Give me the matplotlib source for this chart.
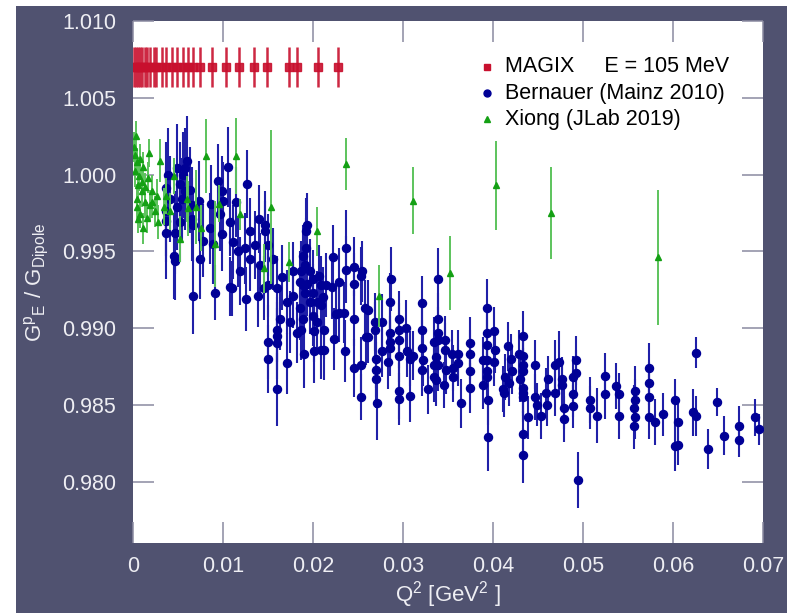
import matplotlib
matplotlib.use("Agg")
import matplotlib.pyplot as plt
from matplotlib.patches import Rectangle

plt.rcParams['font.family'] = ['Liberation Sans', 'DejaVu Sans']
plt.rcParams['mathtext.fontset'] = 'custom'
plt.rcParams['mathtext.rm'] = 'Liberation Sans'
plt.rcParams['mathtext.it'] = 'Liberation Sans'

# ---------------- data ----------------
magix_label = "MAGIX     E = 105 MeV"
magix_q2 = [0.0001, 0.0003, 0.0005, 0.0008, 0.0010, 0.0013, 0.0016, 0.0019, 0.0023,
            0.0026, 0.0032, 0.0037, 0.0043, 0.0049, 0.0055, 0.0061, 0.0067, 0.0074,
            0.0088, 0.0103, 0.0118, 0.0134, 0.0149, 0.0173, 0.0182, 0.0205, 0.0228]
magix_ratio = [1.007] * len(magix_q2)
magix_err = [0.0013] * len(magix_q2)

bern_label = "Bernauer (Mainz 2010)"
bern_q2 = [
    0.0037, 0.0039, 0.0041, 0.0037, 0.0037, 0.0037, 0.0047, 0.0045, 0.0047, 0.0049,
    0.0056, 0.0052, 0.0060, 0.0058, 0.0063, 0.0054, 0.0058, 0.0049, 0.0052, 0.0065,
    0.0065, 0.0073, 0.0067, 0.0067, 0.0074, 0.0078, 0.0087, 0.0094, 0.0106, 0.0099,
    0.0100, 0.0097, 0.0089, 0.0091, 0.0086, 0.0099, 0.0108, 0.0114, 0.0127, 0.0111,
    0.0110, 0.0117, 0.0119, 0.0126, 0.0130, 0.0124, 0.0130, 0.0140, 0.0139, 0.0136,
    0.0141, 0.0147, 0.0147, 0.0145, 0.0150, 0.0150, 0.0150, 0.0150, 0.0160, 0.0160,
    0.0160, 0.0160, 0.0163, 0.0160, 0.0156, 0.0171, 0.0171, 0.0174, 0.0178, 0.0178,
    0.0182, 0.0186, 0.0189, 0.0191, 0.0192, 0.0192, 0.0190, 0.0186, 0.0165, 0.0108,
    0.0193, 0.0222, 0.0237, 0.0237, 0.0234, 0.0226, 0.0189, 0.0197, 0.0187, 0.0200,
    0.0193, 0.0207, 0.0209, 0.0214, 0.0211, 0.0191, 0.0200, 0.0197, 0.0204, 0.0209,
    0.0200, 0.0189, 0.0204, 0.0201, 0.0212, 0.0187, 0.0201, 0.0209, 0.0212, 0.0221,
    0.0223, 0.0229, 0.0229, 0.0235, 0.0245, 0.0245, 0.0246, 0.0246, 0.0253, 0.0253,
    0.0254, 0.0253, 0.0258, 0.0261, 0.0259, 0.0261, 0.0269, 0.0269, 0.0270, 0.0270,
    0.0270, 0.0271, 0.0277, 0.0277, 0.0283, 0.0286, 0.0286, 0.0286, 0.0286, 0.0287,
    0.0295, 0.0295, 0.0295, 0.0295, 0.0295, 0.0295, 0.0303, 0.0304, 0.0308, 0.0308,
    0.0311, 0.0321, 0.0321, 0.0321, 0.0321, 0.0328, 0.0322, 0.0339, 0.0339, 0.0334,
    0.0339, 0.0339, 0.0337, 0.0334, 0.0339, 0.0334, 0.0337, 0.0347, 0.0347, 0.0348,
    0.0346, 0.0355, 0.0356, 0.0356, 0.0361, 0.0361, 0.0364, 0.0374, 0.0374, 0.0374,
    0.0374, 0.0389, 0.0389, 0.0393, 0.0393, 0.0393, 0.0393, 0.0393, 0.0393, 0.0394,
    0.0394, 0.0401, 0.0402, 0.0401, 0.0411, 0.0412, 0.0413, 0.0417, 0.0418, 0.0420,
    0.0421, 0.0429, 0.0430, 0.0433, 0.0433, 0.0433, 0.0433, 0.0433, 0.0433, 0.0433,
    0.0433, 0.0433, 0.0439, 0.0447, 0.0447, 0.0449, 0.0453, 0.0459, 0.0460, 0.0461,
    0.0469, 0.0469, 0.0473, 0.0477, 0.0477, 0.0479, 0.0479, 0.0489, 0.0489, 0.0489,
    0.0492, 0.0492, 0.0494, 0.0508, 0.0508, 0.0516, 0.0524, 0.0524, 0.0537, 0.0540,
    0.0540, 0.0558, 0.0558, 0.0557, 0.0558, 0.0557, 0.0573, 0.0573, 0.0573, 0.0573,
    0.0580, 0.0589, 0.0602, 0.0602, 0.0606, 0.0606, 0.0626, 0.0622, 0.0626, 0.0639,
    0.0649, 0.0657, 0.0673, 0.0673, 0.0691, 0.0696]
bern_ratio = [
    0.9991, 1.0000, 0.9984, 0.9976, 0.9970, 0.9962, 0.9962, 0.9947, 0.9944, 1.0004,
    1.0000, 0.9994, 1.0009, 1.0004, 0.9990, 0.9984, 0.9989, 0.9979, 0.9969, 0.9971,
    0.9980, 0.9983, 0.9967, 0.9921, 0.9945, 0.9957, 0.9981, 0.9996, 1.0005, 0.9989,
    0.9983, 0.9974, 0.9955, 0.9923, 0.9965, 0.9961, 0.9969, 0.9982, 0.9994, 0.9956,
    0.9926, 0.9950, 0.9937, 0.9919, 0.9963, 0.9952, 0.9945, 0.9971, 0.9921, 0.9954,
    0.9941, 0.9967, 0.9963, 0.9926, 0.9954, 0.9891, 0.9880, 0.9928, 0.9860, 0.9895,
    0.9899, 0.9890, 0.9906, 0.9926, 0.9945, 0.9877, 0.9917, 0.9904, 0.9921, 0.9937,
    0.9897, 0.9913, 0.9928, 0.9941, 0.9963, 0.9952, 0.9883, 0.9930, 0.9933, 0.9927,
    0.9967, 0.9946, 0.9952, 0.9938, 0.9910, 0.9909, 0.9947, 0.9937, 0.9937, 0.9932,
    0.9929, 0.9934, 0.9928, 0.9928, 0.9920, 0.9923, 0.9923, 0.9917, 0.9917, 0.9915,
    0.9908, 0.9906, 0.9904, 0.9898, 0.9899, 0.9899, 0.9885, 0.9886, 0.9886, 0.9927,
    0.9893, 0.9930, 0.9910, 0.9885, 0.9940, 0.9929, 0.9906, 0.9874, 0.9876, 0.9855,
    0.9937, 0.9934, 0.9913, 0.9912, 0.9894, 0.9894, 0.9904, 0.9899, 0.9880, 0.9873,
    0.9867, 0.9851, 0.9904, 0.9885, 0.9878, 0.9897, 0.9891, 0.9887, 0.9917, 0.9932,
    0.9906, 0.9899, 0.9892, 0.9882, 0.9859, 0.9854, 0.9900, 0.9885, 0.9880, 0.9856,
    0.9882, 0.9916, 0.9899, 0.9887, 0.9873, 0.9860, 0.9879, 0.9932, 0.9906, 0.9891,
    0.9897, 0.9892, 0.9881, 0.9876, 0.9876, 0.9868, 0.9866, 0.9892, 0.9886, 0.9873,
    0.9863, 0.9883, 0.9874, 0.9868, 0.9883, 0.9877, 0.9851, 0.9890, 0.9883, 0.9872,
    0.9861, 0.9879, 0.9863, 0.9913, 0.9897, 0.9889, 0.9879, 0.9872, 0.9868, 0.9853,
    0.9829, 0.9898, 0.9886, 0.9878, 0.9860, 0.9858, 0.9868, 0.9888, 0.9864, 0.9880,
    0.9872, 0.9883, 0.9867, 0.9895, 0.9882, 0.9876, 0.9872, 0.9861, 0.9858, 0.9855,
    0.9831, 0.9817, 0.9842, 0.9876, 0.9855, 0.9850, 0.9843, 0.9858, 0.9850, 0.9867,
    0.9876, 0.9858, 0.9878, 0.9867, 0.9863, 0.9848, 0.9841, 0.9868, 0.9857, 0.9849,
    0.9879, 0.9871, 0.9801, 0.9853, 0.9848, 0.9843, 0.9869, 0.9857, 0.9862, 0.9857,
    0.9843, 0.9859, 0.9853, 0.9848, 0.9842, 0.9836, 0.9874, 0.9864, 0.9855, 0.9842,
    0.9839, 0.9844, 0.9853, 0.9823, 0.9824, 0.9839, 0.9884, 0.9845, 0.9843, 0.9821,
    0.9852, 0.9830, 0.9836, 0.9827, 0.9842, 0.9834]
bern_err = [
    0.0030, 0.0030, 0.0028, 0.0029, 0.0027, 0.0030, 0.0027, 0.0028, 0.0026, 0.0029,
    0.0028, 0.0027, 0.0029, 0.0026, 0.0028, 0.0027, 0.0025, 0.0028, 0.0026, 0.0027,
    0.0025, 0.0026, 0.0024, 0.0025, 0.0026, 0.0024, 0.0025, 0.0024, 0.0026, 0.0023,
    0.0025, 0.0024, 0.0026, 0.0018, 0.0023, 0.0024, 0.0022, 0.0023, 0.0022, 0.0024,
    0.0018, 0.0023, 0.0022, 0.0021, 0.0022, 0.0023, 0.0021, 0.0022, 0.0020, 0.0022,
    0.0021, 0.0022, 0.0020, 0.0021, 0.0020, 0.0024, 0.0022, 0.0021, 0.0024, 0.0022,
    0.0021, 0.0023, 0.0020, 0.0021, 0.0020, 0.0020, 0.0021, 0.0020, 0.0021, 0.0019,
    0.0020, 0.0021, 0.0020, 0.0021, 0.0022, 0.0020, 0.0022, 0.0020, 0.0021, 0.0019,
    0.0021, 0.0021, 0.0025, 0.0022, 0.0020, 0.0019, 0.0020, 0.0021, 0.0020, 0.0019,
    0.0021, 0.0020, 0.0019, 0.0021, 0.0020, 0.0020, 0.0019, 0.0021, 0.0020, 0.0019,
    0.0020, 0.0021, 0.0019, 0.0020, 0.0019, 0.0020, 0.0021, 0.0019, 0.0020, 0.0021,
    0.0020, 0.0022, 0.0019, 0.0020, 0.0019, 0.0020, 0.0018, 0.0019, 0.0018, 0.0015,
    0.0020, 0.0019, 0.0018, 0.0019, 0.0018, 0.0017, 0.0019, 0.0018, 0.0019, 0.0018,
    0.0019, 0.0024, 0.0018, 0.0017, 0.0018, 0.0019, 0.0017, 0.0018, 0.0019, 0.0021,
    0.0018, 0.0017, 0.0018, 0.0017, 0.0018, 0.0017, 0.0018, 0.0017, 0.0018, 0.0017,
    0.0016, 0.0018, 0.0017, 0.0018, 0.0017, 0.0016, 0.0017, 0.0020, 0.0017, 0.0016,
    0.0017, 0.0016, 0.0017, 0.0016, 0.0017, 0.0016, 0.0017, 0.0016, 0.0017, 0.0016,
    0.0015, 0.0016, 0.0015, 0.0016, 0.0016, 0.0015, 0.0016, 0.0017, 0.0016, 0.0015,
    0.0016, 0.0015, 0.0016, 0.0019, 0.0017, 0.0016, 0.0015, 0.0016, 0.0015, 0.0016,
    0.0022, 0.0016, 0.0015, 0.0016, 0.0015, 0.0016, 0.0015, 0.0016, 0.0015, 0.0016,
    0.0015, 0.0016, 0.0015, 0.0016, 0.0015, 0.0016, 0.0015, 0.0016, 0.0015, 0.0016,
    0.0015, 0.0018, 0.0014, 0.0016, 0.0015, 0.0014, 0.0015, 0.0016, 0.0014, 0.0015,
    0.0016, 0.0015, 0.0020, 0.0014, 0.0015, 0.0014, 0.0015, 0.0014, 0.0015, 0.0014,
    0.0016, 0.0015, 0.0018, 0.0015, 0.0014, 0.0018, 0.0015, 0.0016, 0.0015, 0.0014,
    0.0015, 0.0016, 0.0014, 0.0015, 0.0014, 0.0015, 0.0016, 0.0014, 0.0015, 0.0014,
    0.0015, 0.0014, 0.0014, 0.0016, 0.0013, 0.0015, 0.0010, 0.0015, 0.0013, 0.0013,
    0.0009, 0.0013, 0.0013, 0.0011, 0.0012, 0.0010]

xiong_label = "Xiong (JLab 2019)"
xiong_q2 = [
    0.0001, 0.0002, 0.0002, 0.0003, 0.0004, 0.0004, 0.0004, 0.0006, 0.0006, 0.0007,
    0.0008, 0.0008, 0.0010, 0.0010, 0.0011, 0.0011, 0.0013, 0.0013, 0.0015, 0.0017,
    0.0018, 0.0019, 0.0021, 0.0021, 0.0024, 0.0027, 0.0028, 0.0030, 0.0034, 0.0037,
    0.0041, 0.0045, 0.0052, 0.0060, 0.0061, 0.0070, 0.0076, 0.0081, 0.0091, 0.0096,
    0.0114, 0.0119, 0.0145, 0.0153, 0.0173, 0.0204, 0.0237, 0.0273, 0.0311, 0.0352,
    0.0403, 0.0464, 0.0583]
xiong_ratio = [
    1.0018, 1.0013, 1.0002, 1.0025, 1.0008, 0.9984, 0.9979, 0.9993, 0.9971, 0.9999,
    1.0010, 0.9974, 0.9989, 0.9995, 1.0005, 0.9965, 0.9982, 0.9992, 0.9972, 0.9998,
    1.0014, 0.9980, 0.9982, 0.9989, 0.9976, 0.9986, 0.9969, 1.0009, 0.9979, 0.9986,
    0.9976, 0.9999, 0.9958, 0.9984, 0.9978, 0.9979, 0.9965, 1.0012, 0.9955, 0.9981,
    1.0012, 0.9974, 0.9939, 0.9979, 0.9943, 0.9963, 1.0007, 0.9921, 0.9983, 0.9936,
    0.9993, 0.9975, 0.9946]
xiong_err = [
    0.0010, 0.0009, 0.0010, 0.0010, 0.0009, 0.0010, 0.0009, 0.0010, 0.0009, 0.0010,
    0.0010, 0.0009, 0.0010, 0.0009, 0.0010, 0.0010, 0.0010, 0.0009, 0.0010, 0.0010,
    0.0009, 0.0010, 0.0010, 0.0011, 0.0010, 0.0011, 0.0011, 0.0014, 0.0012, 0.0012,
    0.0012, 0.0012, 0.0015, 0.0015, 0.0018, 0.0024, 0.0015, 0.0024, 0.0028, 0.0012,
    0.0025, 0.0010, 0.0016, 0.0050, 0.0013, 0.0016, 0.0017, 0.0020, 0.0022, 0.0024,
    0.0029, 0.0030, 0.0044]

x_ticks = [0.0, 0.01, 0.02, 0.03, 0.04, 0.05, 0.06, 0.07]
x_tick_labels = ['0', '0.01', '0.02', '0.03', '0.04', '0.05', '0.06', '0.07']
y_ticks = [0.980, 0.985, 0.990, 0.995, 1.000, 1.005, 1.010]
y_tick_labels = ['0.980', '0.985', '0.990', '0.995', '1.000', '1.005', '1.010']

# ---------------- style ----------------
FRAME = '#505270'
TICKLAB = '#eeeef3'
RED = '#c8102e'
NAVY = '#000096'
NAVY_BAR = '#2020a8'
GREEN = '#14a014'
GREEN_BAR = '#5cc35c'

W, H = 787, 613
fig = plt.figure(figsize=(W / 100, H / 100), dpi=100)
fig.patch.set_facecolor('white')
fig.patches.append(Rectangle((16 / W, 0), 1 - 16 / W, 1 - 6 / H,
                             transform=fig.transFigure, facecolor=FRAME,
                             edgecolor='none', zorder=-10))

left, right, top, bottom = 133, 763, 21, 543
ax = fig.add_axes([left / W, 1 - bottom / H, (right - left) / W, (bottom - top) / H])
ax.set_facecolor('white')
for s in ax.spines.values():
    s.set_visible(False)

ax.errorbar(bern_q2, bern_ratio, yerr=bern_err, fmt='o', ms=5.8, mfc=NAVY, mec=NAVY,
            ecolor=NAVY_BAR, elinewidth=1.5, capsize=0, zorder=3)
ax.errorbar(xiong_q2, xiong_ratio, yerr=xiong_err, fmt='^', ms=4.8, mfc=GREEN, mec=GREEN,
            ecolor=GREEN_BAR, elinewidth=1.4, capsize=0, zorder=4)
ax.errorbar(magix_q2, magix_ratio, yerr=magix_err, fmt='s', ms=5.4, mfc=RED, mec=RED,
            ecolor=RED, elinewidth=1.8, capsize=0, zorder=5, alpha=0.9)

ax.set_xlim(0, 0.07)
ax.set_ylim(0.976, 1.010)
ax.set_xticks(x_ticks)
ax.set_xticklabels(x_tick_labels)
ax.set_yticks(y_ticks)
ax.set_yticklabels(y_tick_labels)
ax.tick_params(axis='both', which='major', direction='in', length=15, width=1.1,
               color='#8a8aa0', labelcolor=TICKLAB, labelsize=15.5,
               top=True, right=True)
ax.tick_params(axis='x', pad=9)
ax.tick_params(axis='y', pad=12)

ax.set_xlabel(r'Q$^{2}$ [GeV$^{2}$ ]', color=TICKLAB, fontsize=16, labelpad=2)
ax.set_ylabel(r'G$^{\mathregular{p}}$$_{\mathregular{E}}$ / G$_{\mathregular{Dipole}}$',
              color=TICKLAB, fontsize=16, labelpad=8)

# legend drawn as marker + label rows
legend_rows = [('s', RED, magix_label), ('o', NAVY, bern_label), ('^', GREEN, xiong_label)]
row_y = [67, 93, 119]
for (mk, col, lab), py in zip(legend_rows, row_y):
    yf = 1 - (py - top) / (bottom - top)
    ax.plot([(487 - left) / (right - left)], [yf], marker=mk, color=col, ms=5,
            ls='none', transform=ax.transAxes, clip_on=False, zorder=6)
    ax.text((505 - left) / (right - left), yf, lab, transform=ax.transAxes,
            fontsize=15.5, color='black', va='center', ha='left', zorder=6)

fig.savefig('out.png', dpi=100)
